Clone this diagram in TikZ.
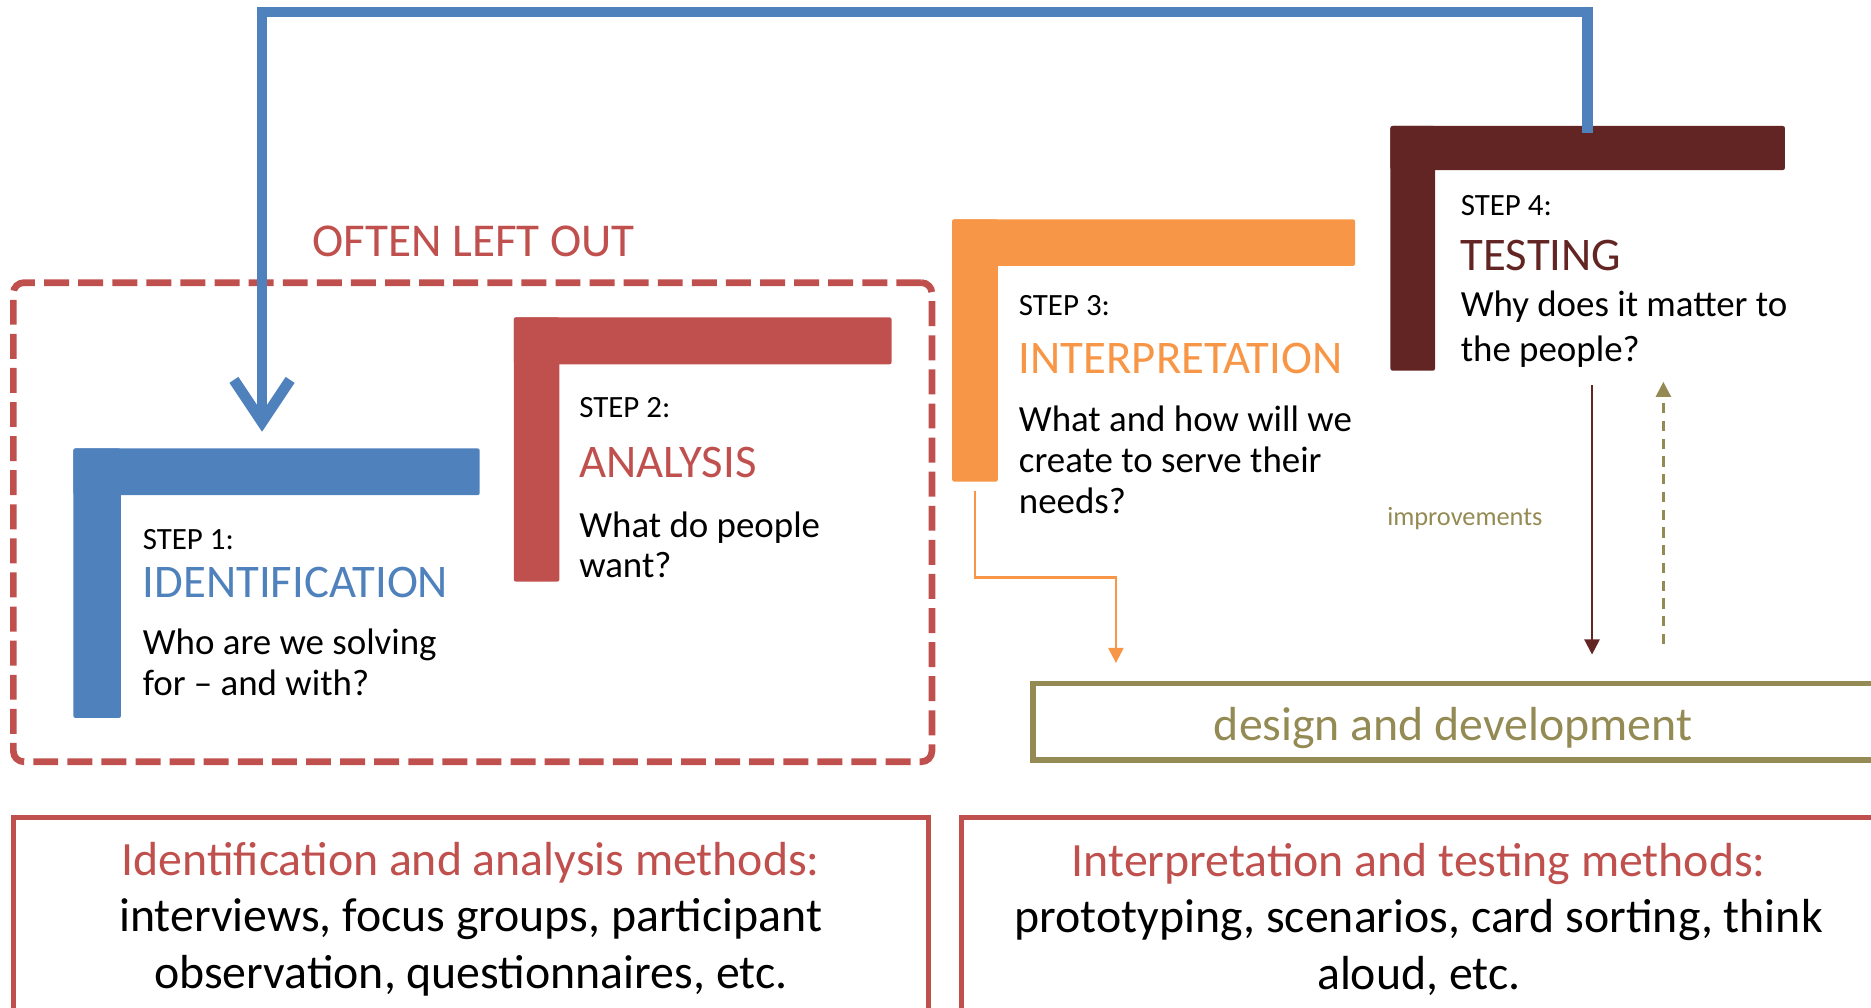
\documentclass[tikz,border=0pt]{standalone}
\usepackage{fontspec}
\setmainfont{Carlito}
\usetikzlibrary{arrows.meta,fit}

\definecolor{stepblue}{HTML}{4F81BD}
\definecolor{stepred}{HTML}{C0504D}
\definecolor{steporange}{HTML}{F79646}
\definecolor{stepmaroon}{HTML}{632523}
\definecolor{devolive}{HTML}{948A54}

\begin{document}
\begin{tikzpicture}[x=0.011932cm, y=-0.011932cm, ->, >={Triangle[length=4.3pt,width=4.3pt]},
    bar/.style={fill=#1, draw=none, inner sep=0pt, outer sep=0pt, rounded corners=0.6pt},
    frame/.style={draw=#1, inner sep=0pt, outer sep=0pt},
    txt/.style={inner sep=0pt, anchor=base west, align=left},
    lbl/.style={txt, font=\fontsize{8.8}{10.5}\selectfont},
    ttl/.style={txt, text=#1, font=\fontsize{13.3}{16}\selectfont},
    ask/.style={txt, font=\fontsize{10.5}{11.45}\selectfont},
    meth/.style={inner sep=0pt, anchor=base, align=center, font=\fontsize{13.6}{16}\selectfont},
    link/.style={draw=#1, line width=0.65pt},
    feedback/.style={draw=stepblue, line width=3.05pt, -{Straight Barb[length=12pt,width=16pt]}}]
    \useasboundingbox (0,0) rectangle (1568,844);

    \node[frame=stepred, line width=1.9pt, dash pattern=on 7.1pt off 2.6pt, rounded corners=3pt,
        fit={(11.2,236.9) (781,638.4)}] (leftout) {};
    \node[txt, text=stepred, font=\fontsize{13.4}{16}\selectfont] (leftouttxt) at (261.3,214.6) {OFTEN LEFT OUT};

    \node[bar=stepblue, fit={(61.5,375.8) (402,415)}] (s1top) {};
    \node[bar=stepblue, fit={(61.5,375.8) (101.4,601.7)}] (s1side) {};
    \node[bar=stepred, fit={(430.6,266) (747.2,305.3)}] (s2top) {};
    \node[bar=stepred, fit={(430.6,266) (468.8,487.4)}] (s2side) {};
    \node[bar=steporange, fit={(798,183.8) (1135.6,222.9)}] (s3top) {};
    \node[bar=steporange, fit={(798,183.8) (836.2,403.7)}] (s3side) {};
    \node[bar=stepmaroon, fit={(1165.3,105.6) (1495.9,142.5)}] (s4top) {};
    \node[bar=stepmaroon, fit={(1165.3,105.6) (1202.6,310.7)}] (s4side) {};

    \path
    (119.1,460.2) node[lbl] (s1lbl) {STEP 1:}
    (119.1,500.6) node[ttl=stepblue] (s1ttl) {IDENTIFICATION}
    (119.1,582.5) node[ask] (s1ask) {Who are we solving\\for – and with?}
    (484.9,349.8) node[lbl] (s2lbl) {STEP 2:}
    (484.9,400) node[ttl=stepred] (s2ttl) {ANALYSIS}
    (484.9,484) node[ask] (s2ask) {What do people\\want?}
    (853.3,264) node[lbl] (s3lbl) {STEP 3:}
    (853.3,312.9) node[ttl=steporange] (s3ttl) {INTERPRETATION}
    (853.3,430.4) node[ask, font=\fontsize{10.5}{11.65}\selectfont] (s3ask) {What and how will we\\create to serve their\\needs?}
    (1223.6,181) node[lbl] (s4lbl) {STEP 4:}
    (1223.6,226.3) node[ttl=stepmaroon] (s4ttl) {TESTING}
    (1223.6,303.1) node[ask, font=\fontsize{10.5}{12.8}\selectfont] (s4ask) {Why does it matter to\\the people?}
    (1162,440) node[txt, text=devolive, font=\fontsize{7.5}{9}\selectfont] (improve) {improvements};

    \node[frame=devolive, line width=1.6pt, fit={(865.8,572.7) (1570,636.7)}] (design) {};
    \node[meth, text=devolive] (designtxt) at (1217.8,620.6) {design and development};

    \node[frame=stepred, line width=1.4pt, fit={(11,685.4) (778,900)}] (idmeth) {};
    \node[frame=stepred, line width=1.4pt, fit={(805.5,685.4) (1572.5,900)}] (itmeth) {};
    \node[meth] (idtxt) at (394.5,828) {\textcolor{stepred}{Identification and analysis methods:}\\interviews, focus groups, participant\\observation, questionnaires, etc.};
    \node[meth] (ittxt) at (1189,829) {\textcolor{stepred}{Interpretation and testing methods:}\\prototyping, scenarios, card sorting, think\\aloud, etc.};

    \coordinate (back) at (219.6,10);
    \coordinate (s3turn) at (935.2,484);
    \coordinate (s4out) at (1334.2,322.7);
    \coordinate (s4in) at (1394,320);
    \draw[feedback, shorten >=4.75pt] ([yshift=-2pt]s4top.north) |- (back) -- (back |- s1top.north);
    \draw[link=steporange, shorten <=2.6pt, shorten >=5.8pt] (s3side.south) |- (s3turn) -- (s3turn |- design.north);
    \draw[link=stepmaroon, shorten >=8.2pt] (s4out) -- (s4out |- design.north);
    \draw[link=devolive, dash pattern=on 2.85pt off 2.2pt, shorten <=11.2pt] (s4in |- design.north) -- (s4in);
\end{tikzpicture}
\end{document}
